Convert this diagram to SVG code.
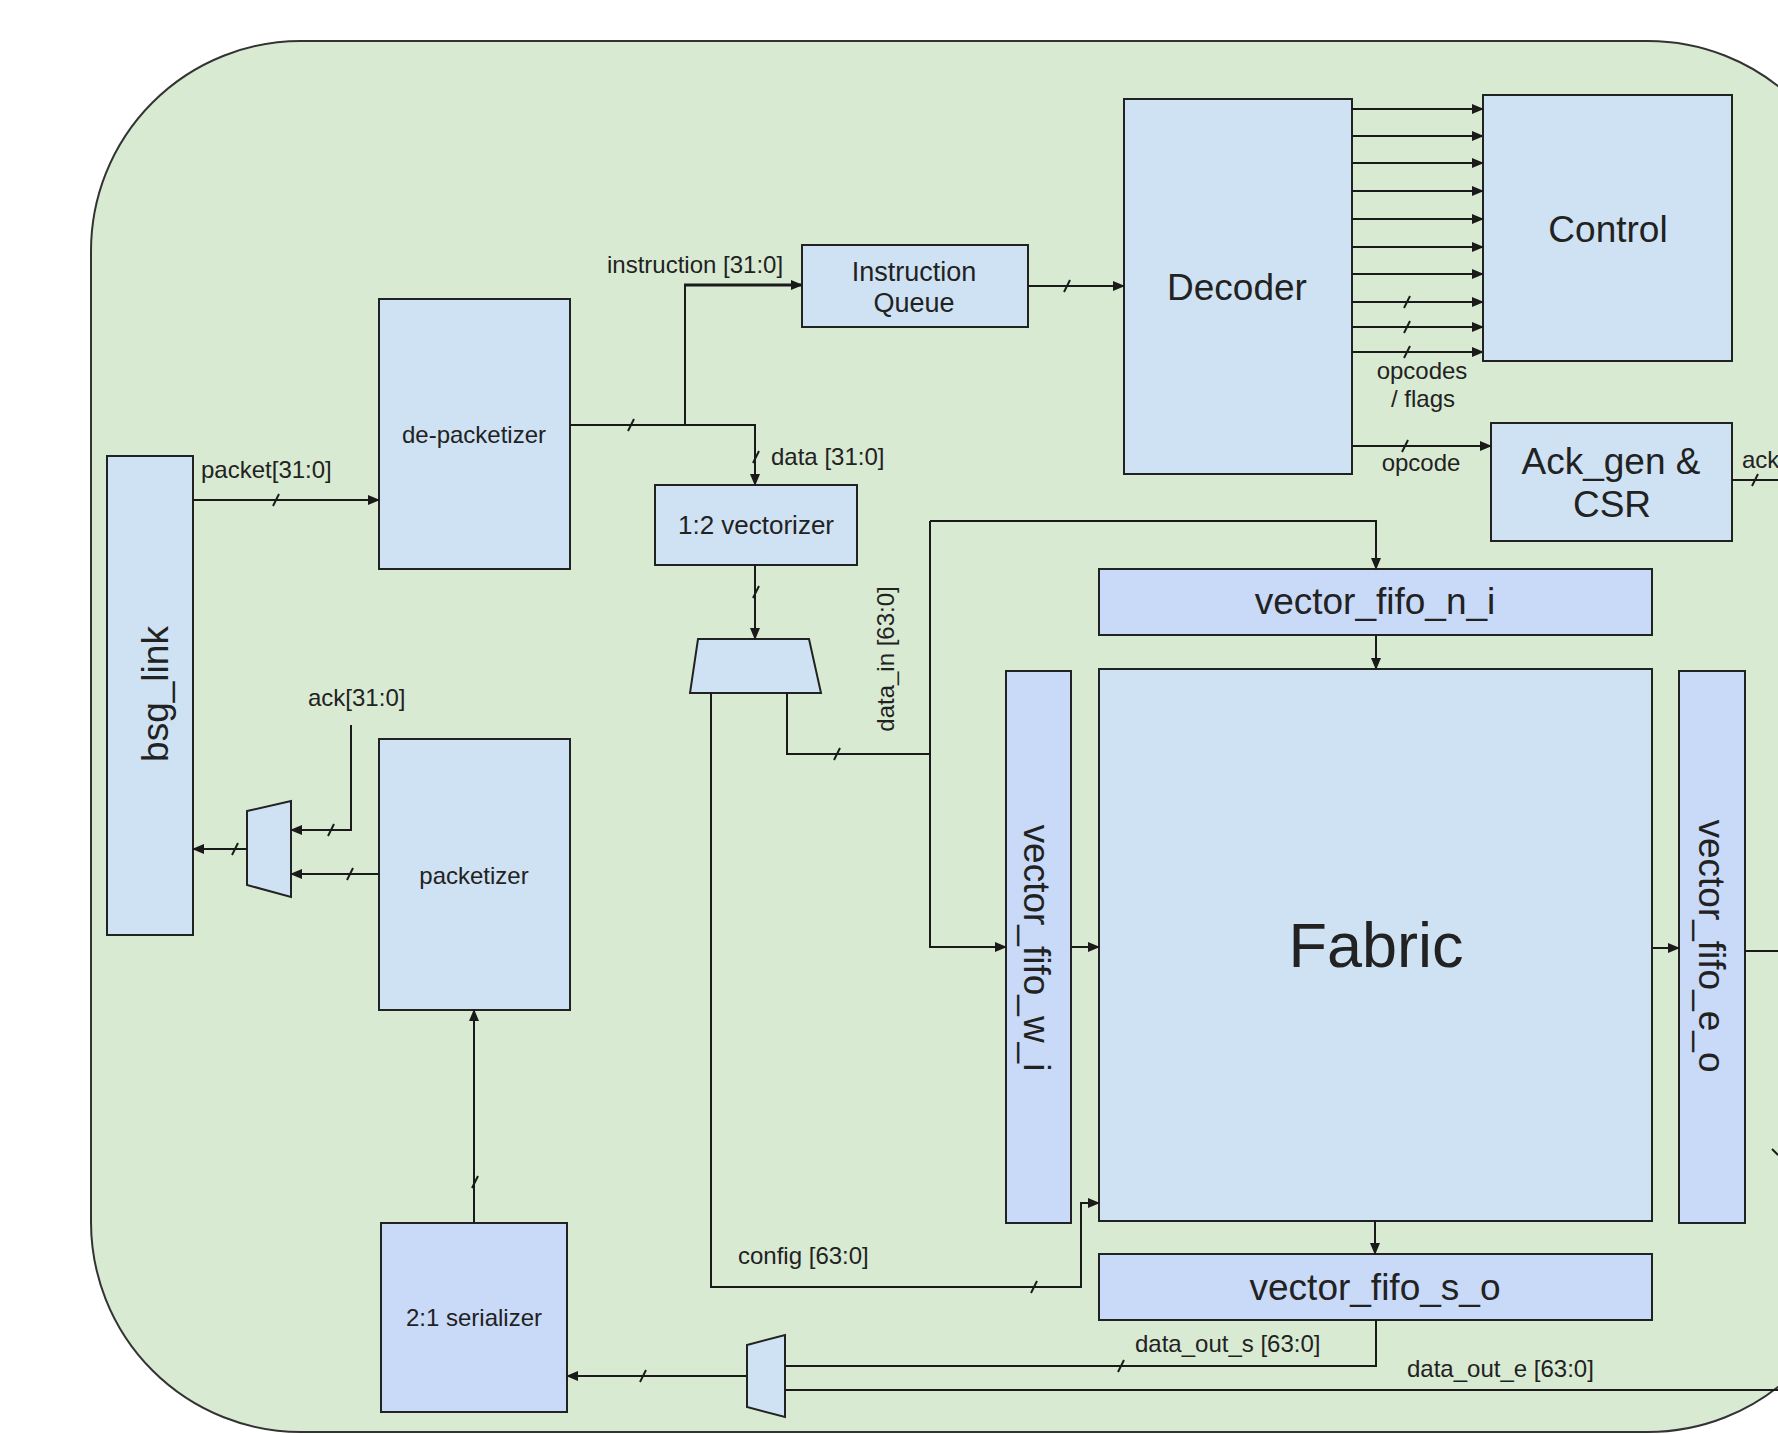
<svg xmlns="http://www.w3.org/2000/svg" xmlns:xlink="http://www.w3.org/1999/xlink" width="1778" height="1434" viewBox="0 0 1778 1434">
<style>
.box{fill:#cfe2f3;stroke:#222;stroke-width:2}
.fifo{fill:#c9daf8;stroke:#222;stroke-width:2}
.w{stroke:#1a1a1a;stroke-width:2;fill:none}
.a{marker-end:url(#arr)}
.t{font-family:"Liberation Sans",Arial,sans-serif;fill:#222}
.s24{font-size:24px}
.s26{font-size:26px}
.s37{font-size:37px}
.lbl{font-family:"Liberation Sans",Arial,sans-serif;fill:#222;font-size:24px}
.mid{text-anchor:middle}
</style>
<defs>
<marker id="arr" markerUnits="userSpaceOnUse" markerWidth="12" markerHeight="10" refX="11" refY="5" orient="auto">
<path d="M0,0 L12,5 L0,10 z" fill="#1a1a1a"/>
</marker>
<path id="tick" d="M-3,6 L3,-6" stroke="#1a1a1a" stroke-width="2" fill="none"/>
</defs>
<rect x="0" y="0" width="1778" height="1434" fill="#ffffff"/>
<rect id="frame" x="91" y="41" width="1767" height="1391" rx="210" ry="210" fill="#d9ead3" stroke="#333" stroke-width="2"/>

<g id="bsg_link"><rect class="box" x="107" y="456" width="86" height="479"/><text class="t s37 mid" transform="translate(156,694) rotate(-90)" y="12">bsg_link</text></g>
<g id="de_packetizer"><rect class="box" x="379" y="299" width="191" height="270"/><text class="t s24 mid" x="474" y="443">de-packetizer</text></g>
<g id="instruction_queue"><rect class="box" x="802" y="245" width="226" height="82"/><text class="t mid" style="font-size:27px" x="914" y="281">Instruction</text><text class="t mid" style="font-size:27px" x="914" y="312">Queue</text></g>
<g id="decoder"><rect class="box" x="1124" y="99" width="228" height="375"/><text class="t s37 mid" x="1237" y="300">Decoder</text></g>
<g id="control"><rect class="box" x="1483" y="95" width="249" height="266"/><text class="t s37 mid" x="1608" y="242">Control</text></g>
<g id="ack_gen_csr"><rect class="box" x="1491" y="423" width="241" height="118"/><text class="t s37 mid" x="1611" y="474">Ack_gen &amp;</text><text class="t s37 mid" x="1612" y="517">CSR</text></g>
<g id="vectorizer"><rect class="box" x="655" y="485" width="202" height="80"/><text class="t s26 mid" x="756" y="534">1:2 vectorizer</text></g>
<g id="mux_top"><polygon class="box" points="698,639 809,639 821,693 690,693"/></g>
<g id="vector_fifo_n_i"><rect class="fifo" x="1099" y="569" width="553" height="66"/><text class="t s37 mid" x="1375" y="614">vector_fifo_n_i</text></g>
<g id="fabric"><rect class="box" x="1099" y="669" width="553" height="552"/><text class="t mid" style="font-size:63px" x="1376" y="967">Fabric</text></g>
<g id="vector_fifo_w_i"><rect class="fifo" x="1006" y="671" width="65" height="552"/><text class="t s37 mid" transform="translate(1037,948) rotate(90)" y="13">vector_fifo_w_i</text></g>
<g id="vector_fifo_e_o"><rect class="fifo" x="1679" y="671" width="66" height="552"/><text class="t s37 mid" transform="translate(1712,946) rotate(90)" y="13">vector_fifo_e_o</text></g>
<g id="vector_fifo_s_o"><rect class="fifo" x="1099" y="1254" width="553" height="66"/><text class="t s37 mid" x="1375" y="1300">vector_fifo_s_o</text></g>
<g id="packetizer"><rect class="box" x="379" y="739" width="191" height="271"/><text class="t s24 mid" x="474" y="884">packetizer</text></g>
<g id="serializer"><rect class="fifo" x="381" y="1223" width="186" height="189"/><text class="t s24 mid" x="474" y="1326">2:1 serializer</text></g>
<g id="mux_left"><polygon class="box" points="247,811 291,801 291,897 247,885"/></g>
<g id="mux_bottom"><polygon class="box" points="747,1345 785,1335 785,1417 747,1407"/></g>

<g id="connectors">
<path class="w a" d="M193,500 H379"/>
<path class="w" d="M570,425 H685"/>
<path class="w" d="M685,425 V285"/>
<path class="w a" style="stroke-width:3" d="M684,285 H802"/>
<path class="w a" d="M685,425 H755 V485"/>
<path class="w a" d="M1028,286 H1124"/>
<path class="w a" d="M1352,109 H1483"/>
<path class="w a" d="M1352,136 H1483"/>
<path class="w a" d="M1352,163 H1483"/>
<path class="w a" d="M1352,191 H1483"/>
<path class="w a" d="M1352,219 H1483"/>
<path class="w a" d="M1352,247 H1483"/>
<path class="w a" d="M1352,274 H1483"/>
<path class="w a" d="M1352,302 H1483"/>
<path class="w a" d="M1352,327 H1483"/>
<path class="w a" d="M1352,352 H1483"/>
<path class="w a" d="M1352,446 H1491"/>
<path class="w" d="M1732,480 H1778"/>
<path class="w a" d="M755,565 V639"/>
<path class="w" d="M787,693 V754 H930"/>
<path class="w a" d="M930,521 H1376 V569"/>
<path class="w a" d="M930,521 V947 H1006"/>
<path class="w a" d="M711,693 V1287 H1081 V1203 H1099"/>
<path class="w a" d="M1376,635 V669"/>
<path class="w a" d="M1071,947 H1099"/>
<path class="w a" d="M1652,948 H1679"/>
<path class="w" d="M1745,951 H1778"/>
<path class="w a" d="M1375,1221 V1254"/>
<path class="w" d="M1376,1320 V1366 H785"/>
<path class="w" d="M1778,1390 H785"/>
<path class="w a" d="M747,1376 H567"/>
<path class="w a" d="M474,1223 V1010"/>
<path class="w a" d="M379,874 H291"/>
<path class="w a" d="M351,725 V830 H291"/>
<path class="w a" d="M247,849 H193"/>
<use xlink:href="#tick" x="276" y="500"/>
<use xlink:href="#tick" x="631" y="425"/>
<use xlink:href="#tick" x="756" y="457"/>
<use xlink:href="#tick" x="1067" y="286"/>
<use xlink:href="#tick" x="1407" y="302"/>
<use xlink:href="#tick" x="1407" y="327"/>
<use xlink:href="#tick" x="1407" y="352"/>
<use xlink:href="#tick" x="1405" y="446"/>
<use xlink:href="#tick" x="1755" y="480"/>
<use xlink:href="#tick" x="756" y="592"/>
<use xlink:href="#tick" x="837" y="754"/>
<use xlink:href="#tick" x="1034" y="1287"/>
<use xlink:href="#tick" x="1121" y="1366"/>
<use xlink:href="#tick" x="643" y="1376"/>
<use xlink:href="#tick" x="475" y="1182"/>
<use xlink:href="#tick" x="350" y="874"/>
<use xlink:href="#tick" x="331" y="830"/>
<use xlink:href="#tick" x="235" y="849"/>
<path d="M1772,1149 L1778,1155" stroke="#1a1a1a" stroke-width="2"/>
<text class="lbl" x="201" y="478">packet[31:0]</text>
<text class="lbl" x="607" y="273">instruction [31:0]</text>
<text class="lbl" x="771" y="465">data [31:0]</text>
<text class="lbl mid" x="1422" y="379">opcodes</text>
<text class="lbl mid" x="1423" y="407">/ flags</text>
<text class="lbl mid" x="1421" y="471">opcode</text>
<text class="lbl" x="1742" y="468">ack</text>
<text class="lbl mid" transform="translate(886,659) rotate(-90)" y="8">data_in [63:0]</text>
<text class="lbl" x="738" y="1264">config [63:0]</text>
<text class="lbl" x="1135" y="1352">data_out_s [63:0]</text>
<text class="lbl" x="1407" y="1377">data_out_e [63:0]</text>
<text class="lbl" x="308" y="706">ack[31:0]</text>
</g>
</svg>
